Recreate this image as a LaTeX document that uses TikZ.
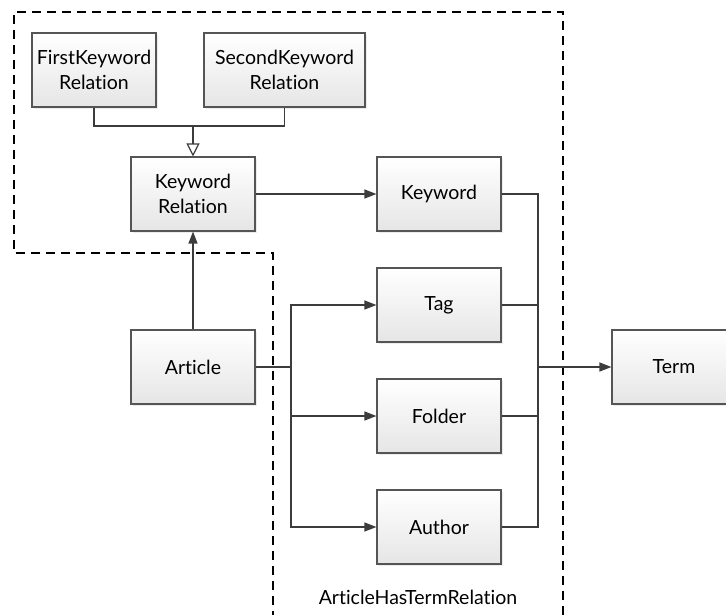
\documentclass[tikz,border=0pt]{standalone}
\usepackage{fontspec}
\setmainfont[Ligatures={NoCommon,NoRare}]{Lato}
\usetikzlibrary{arrows.meta,shadows}
\definecolor{ln}{HTML}{3C3C3C}
\definecolor{bd}{HTML}{555555}
\begin{document}
\begin{tikzpicture}[x=1pt,y=-1pt,
 box/.style={draw=bd, line width=1.1pt, top color=white, bottom color=black!10,
   drop shadow={shadow xshift=2pt,shadow yshift=-2pt,opacity=0.15},
   minimum width=124pt, minimum height=74pt, inner sep=0pt, align=center,
   font=\fontsize{19.5}{24.5}\selectfont},
 conn/.style={draw=ln, line width=1.2pt},
 arr/.style={conn, -{Triangle[length=12pt,width=9pt]}},
 inh/.style={conn, -{Triangle[open,length=13pt,width=13pt,fill=white]}},
 bound/.style={draw=black, line width=1.4pt, dash pattern=on 9pt off 6pt}
]
\useasboundingbox (0,0) rectangle (726,614);
\draw[bound] (273,620) -- (273,253) -- (14,253) -- (14,12) -- (563,12) -- (563,620);

\node[box] (fkr) at (94,70) {FirstKeyword\\Relation};
\node[box, minimum width=161pt] (skr) at (284.5,70) {SecondKeyword\\Relation};
\node[box] (kr) at (193,194) {Keyword\\Relation};
\node[box] (kw) at (439,194) {Keyword};
\node[box] (tag) at (439,305) {Tag};
\node[box] (fold) at (439,416) {Folder};
\node[box] (auth) at (439,527) {Author};
\node[box] (art) at (193,367) {Article};
\node[box] (term) at (674,367) {Term};
\node[font=\fontsize{19.5}{24.5}\selectfont] (lbl) at (418,597) {ArticleHasTermRelation};

\coordinate (mj) at (193,126);
\draw[conn] (fkr.south) |- (mj) -| (skr.south);
\draw[inh] (mj) -- (kr.north);
\draw[arr] (kr.east) -- (kw.west);
\draw[arr] (art.north) -- (kr.south);

\coordinate (aj) at (291,367);
\draw[conn] (art.east) -- (aj);
\draw[arr] (aj) |- (tag.west);
\draw[arr] (aj) |- (auth.west);
\draw[arr] (aj |- fold.west) -- (fold.west);

\coordinate (tj) at (538,367);
\draw[conn] (kw.east) -| (tj) |- (auth.east);
\draw[conn] (tag.east) -- (tag.east -| tj);
\draw[conn] (fold.east) -- (fold.east -| tj);
\draw[arr] (tj) -- (term.west);
\end{tikzpicture}
\end{document}
